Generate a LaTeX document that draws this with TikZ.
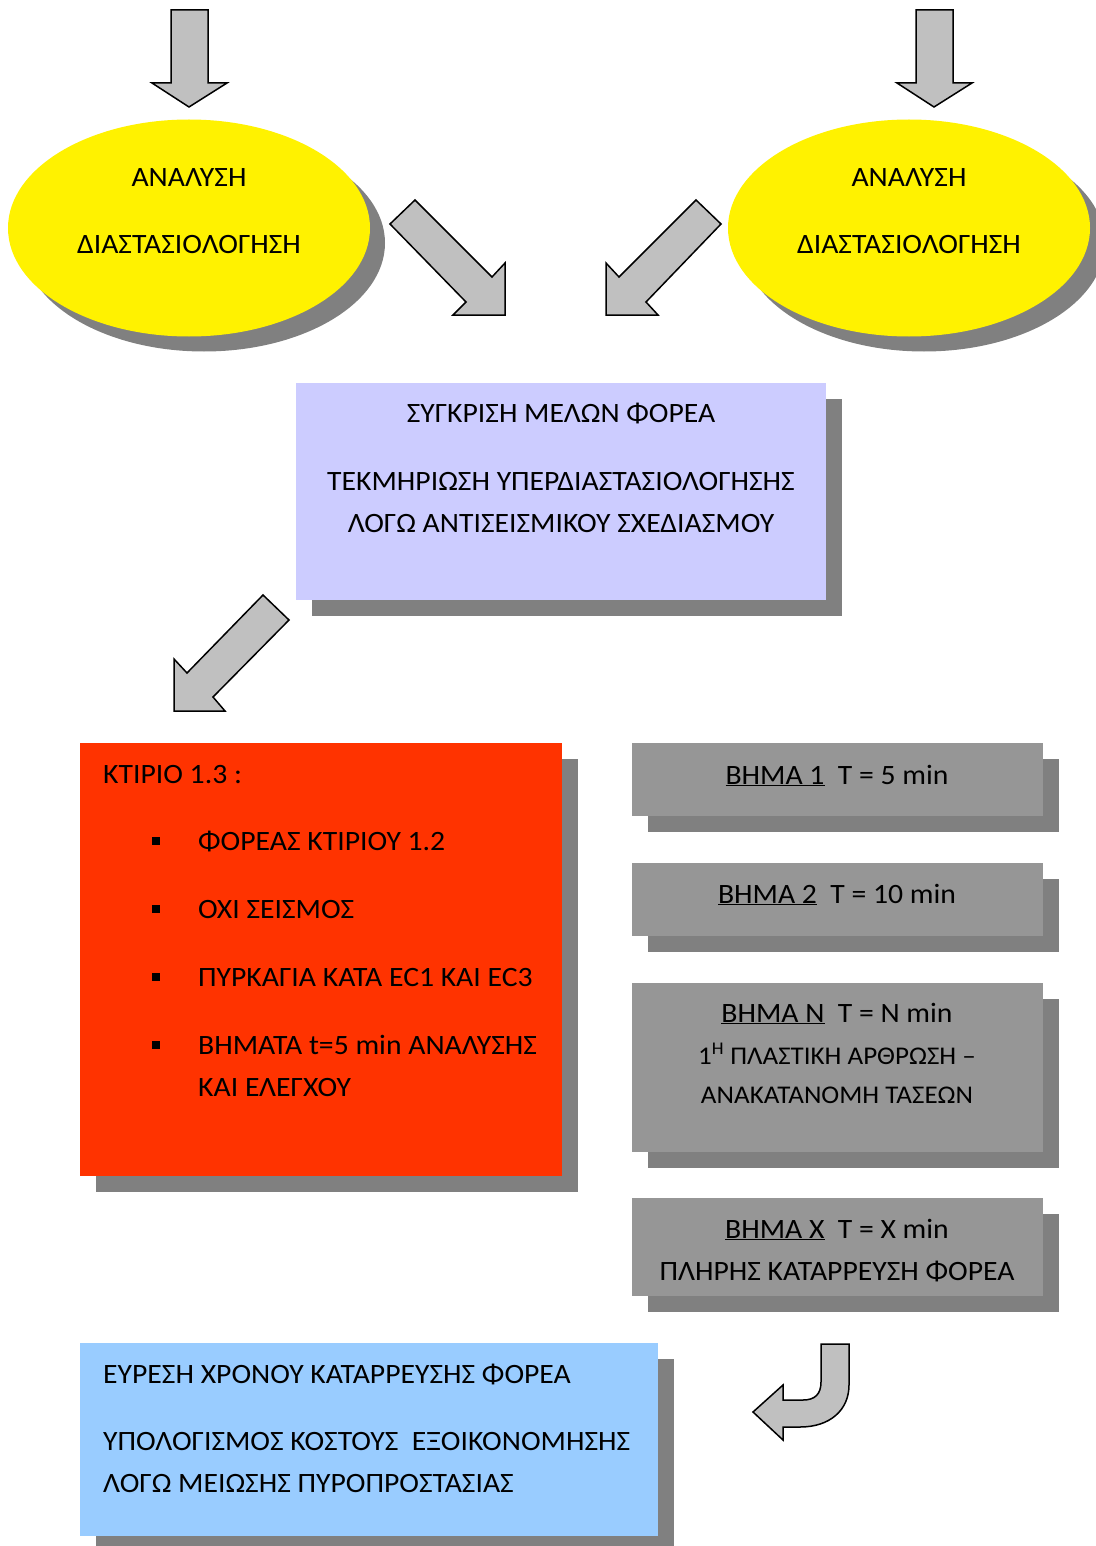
\documentclass[tikz,border=0pt]{standalone}
\usepackage{fontspec}
\setmainfont{Carlito}[FakeStretch=1.06]
\usetikzlibrary{shapes.geometric,shadows}
\definecolor{shadowgray}{HTML}{808080}
\definecolor{arrowgray}{HTML}{C0C0C0}
\definecolor{stepgray}{HTML}{969696}
\definecolor{lavender}{HTML}{CCCCFF}
\definecolor{firered}{HTML}{FF3300}
\definecolor{skyblue}{HTML}{99CCFF}

\begin{document}
\begin{tikzpicture}[x=1pt,y=-1pt,
  font=\fontsize{28}{33}\selectfont,
  txt/.style={inner sep=0pt,text height=18pt,text depth=0pt},
  box/.style={rectangle,inner sep=0pt,
    drop shadow={shadow xshift=16pt,shadow yshift=-16pt,fill=shadowgray,opacity=1}},
  oval/.style={ellipse,fill=yellow,inner sep=0pt,minimum width=362pt,minimum height=217pt,
    drop shadow={shadow xshift=15pt,shadow yshift=-15pt,fill=shadowgray,opacity=1}},
  blockarrow/.style={draw=black,fill=arrowgray,line width=1.5pt,line join=miter},
  bullet/.style={fill=black,inner sep=0pt,minimum size=8pt}]
  \useasboundingbox (0,0) rectangle (1095,1546);
  % ellipses
  \node[oval] at(189,228)(left){};
  \node[oval] at(909,228)(right){};
  \node[txt] at(189,178)(lt1){ΑΝΑΛΥΣΗ};
  \node[txt] at(189,245)(lt2){ΔΙΑΣΤΑΣΙΟΛΟΓΗΣΗ};
  \node[txt] at(909,178)(rt1){ΑΝΑΛΥΣΗ};
  \node[txt] at(909,245)(rt2){ΔΙΑΣΤΑΣΙΟΛΟΓΗΣΗ};
  % block arrows
  \draw[blockarrow] (171,10) -- (208,10) -- (208,83) -- (227,83) -- (189,107) -- (152,83) -- (171,83) -- cycle;
  \draw[blockarrow] (916,10) -- (953,10) -- (953,83) -- (972,83) -- (934,107) -- (897,83) -- (916,83) -- cycle;
  \draw[blockarrow] (415,200) -- (390,224) -- (466,302) -- (453,315) -- (505,315) -- (505,263) -- (492,277) -- cycle;
  \draw[blockarrow] (696,200) -- (721,224) -- (646,302) -- (658,315) -- (606,315) -- (606,263) -- (619,277) -- cycle;
  \draw[blockarrow] (263,595) -- (289,620) -- (213,697) -- (225,711) -- (174,711) -- (174,659) -- (187,673) -- cycle;
  % comparison box
  \node[box,fill=lavender,minimum width=530pt,minimum height=217pt] at(561,491.5)(comp){};
  \node[txt] at(561,413)(c1){ΣΥΓΚΡΙΣΗ ΜΕΛΩΝ ΦΟΡΕΑ};
  \node[txt] at(561,481)(c2){ΤΕΚΜΗΡΙΩΣΗ ΥΠΕΡΔΙΑΣΤΑΣΙΟΛΟΓΗΣΗΣ};
  \node[txt] at(561,523)(c3){ΛΟΓΩ ΑΝΤΙΣΕΙΣΜΙΚΟΥ ΣΧΕΔΙΑΣΜΟΥ};
  % building box
  \node[box,fill=firered,minimum width=482pt,minimum height=433pt] at(321,959.5)(bld){};
  \node[txt,anchor=west] at(103,774)(b0){ΚΤΙΡΙΟ 1.3 :};
  \foreach \y in {841,909,977,1045}
    \node[bullet] at(156,\y){};
  \node[txt,anchor=west] at(198,841)(b1){ΦΟΡΕΑΣ ΚΤΙΡΙΟΥ 1.2};
  \node[txt,anchor=west] at(198,909)(b2){ΟΧΙ ΣΕΙΣΜΟΣ};
  \node[txt,anchor=west] at(198,977)(b3){ΠΥΡΚΑΓΙΑ ΚΑΤΑ EC1 ΚΑΙ EC3};
  \node[txt,anchor=west] at(198,1045)(b4){ΒΗΜΑΤΑ t=5 min ΑΝΑΛΥΣΗΣ};
  \node[txt,anchor=west] at(198,1087)(b5){ΚΑΙ ΕΛΕΓΧΟΥ};
  % step boxes
  \node[box,fill=stepgray,minimum width=411pt,minimum height=73pt] at(837.5,779.5)(s1){};
  \node[box,fill=stepgray,minimum width=411pt,minimum height=73pt] at(837.5,899.5)(s2){};
  \node[box,fill=stepgray,minimum width=411pt,minimum height=169pt] at(837.5,1067.5)(sn){};
  \node[box,fill=stepgray,minimum width=411pt,minimum height=98pt] at(837.5,1247)(sx){};
  \node[txt] at(837,775)(s1t){\underline{ΒΗΜΑ 1}\ \ T = 5 min};
  \node[txt] at(837,894)(s2t){\underline{ΒΗΜΑ 2}\ \ T = 10 min};
  \node[txt] at(837,1013)(snt){\underline{ΒΗΜΑ Ν}\ \ T = N min};
  \node[txt,font=\fontsize{25.5}{30}\selectfont] at(837,1055)(sn2){1\textsuperscript{Η} ΠΛΑΣΤΙΚΗ ΑΡΘΡΩΣΗ –};
  \node[txt,font=\fontsize{25.5}{30}\selectfont] at(837,1094)(sn3){ΑΝΑΚΑΤΑΝΟΜΗ ΤΑΣΕΩΝ};
  \node[txt] at(837,1229)(sxt){\underline{ΒΗΜΑ Χ}\ \ T = X min};
  \node[txt] at(837,1271)(sx2){ΠΛΗΡΗΣ ΚΑΤΑΡΡΕΥΣΗ ΦΟΡΕΑ};
  % result box
  \node[box,fill=skyblue,minimum width=578pt,minimum height=193pt] at(369,1439.5)(res){};
  \node[txt,anchor=west] at(103,1374)(r1){ΕΥΡΕΣΗ ΧΡΟΝΟΥ ΚΑΤΑΡΡΕΥΣΗΣ ΦΟΡΕΑ};
  \node[txt,anchor=west] at(103,1441)(r2){ΥΠΟΛΟΓΙΣΜΟΣ ΚΟΣΤΟΥΣ\ \ ΕΞΟΙΚΟΝΟΜΗΣΗΣ};
  \node[txt,anchor=west] at(103,1483)(r3){ΛΟΓΩ ΜΕΙΩΣΗΣ ΠΥΡΟΠΡΟΣΤΑΣΙΑΣ};
  % curved arrow
  \draw[blockarrow] (821,1344) -- (849,1344) -- (849,1385)
    .. controls (849,1410) and (830,1427) .. (800,1427) -- (783,1427) -- (783,1440)
    -- (753,1412) -- (783,1385) -- (783,1400) -- (803,1400)
    .. controls (815,1400) and (821,1394) .. (821,1382) -- cycle;
\end{tikzpicture}
\end{document}
